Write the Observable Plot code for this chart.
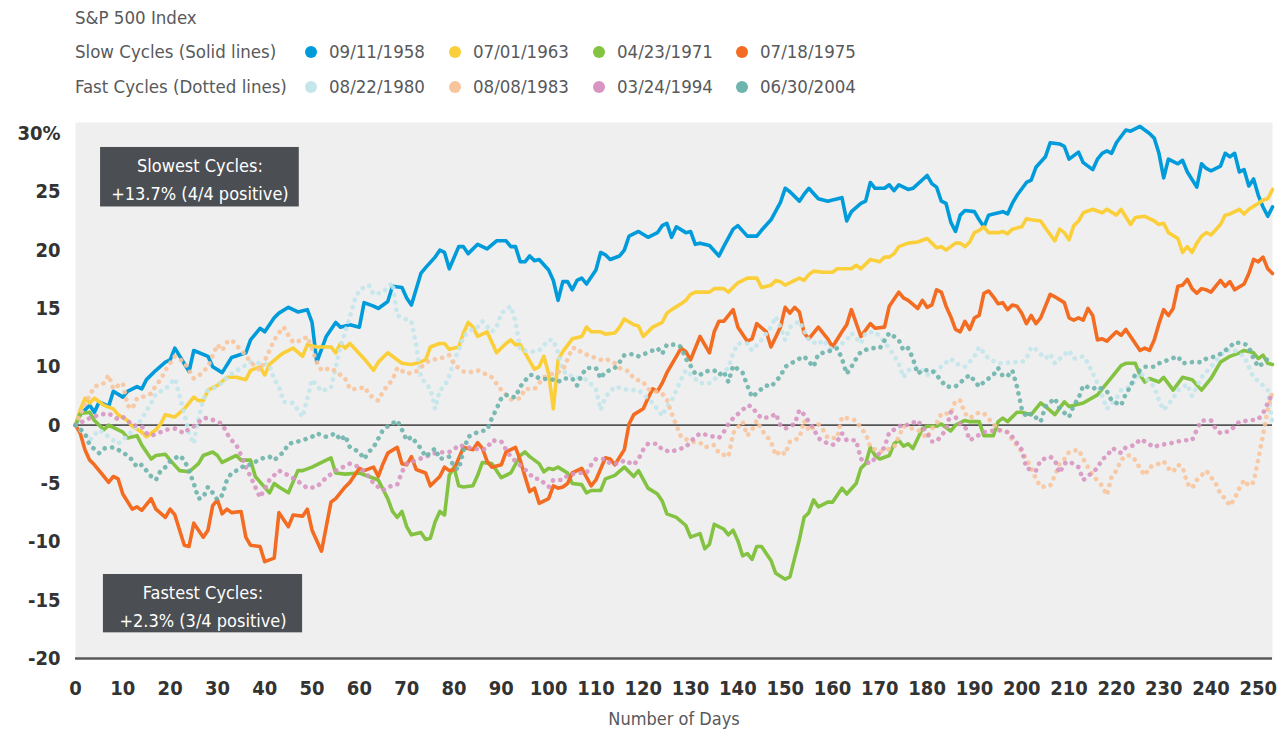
<!DOCTYPE html>
<html><head><meta charset="utf-8">
<script src="https://cdn.jsdelivr.net/npm/d3@7"></script>
<script src="https://cdn.jsdelivr.net/npm/@observablehq/plot@0.6"></script>
<style>
html,body{margin:0;padding:0;background:#fff;}
body{font-family:"Liberation Sans Narrow","DejaVu Sans Condensed","Roboto",sans-serif;}
#legend{position:relative;width:1283px;height:105px;color:#58595b;font-size:18.5px;}
#legend .t{position:absolute;white-space:nowrap;height:24px;line-height:24px;}
#legend .dot{position:absolute;width:12px;height:12px;border-radius:50%;}
#chart svg{display:block;}
</style></head><body>
<div id="legend"></div>
<div id="chart"></div>
<script>
// ---------- data ----------
const title = "S&P 500 Index";
const groupLabels = ["Slow Cycles (Solid lines)", "Fast Cycles (Dotted lines)"];
const slowDates = ["09/11/1958", "07/01/1963", "04/23/1971", "07/18/1975"];
const fastDates = ["08/22/1980", "08/08/1983", "03/24/1994", "06/30/2004"];
const slowColors = ["#009bdb", "#fbcf3a", "#84c341", "#f36c21"];
const fastColors = ["#c3e6eb", "#f8c49c", "#d895c2", "#6db4ac"];
const xTicks = [0,10,20,30,40,50,60,70,80,90,100,110,120,130,140,150,160,170,180,190,200,210,220,230,240,250];
const yTickValues = [-20,-15,-10,-5,0,5,10,15,20,25];
const yTickLabels = ["-20","-15","-10","-5","0","10","15","20","25","30%"];
const xLabel = "Number of Days";
const annotationLabels = ["Slowest Cycles:\n+13.7% (4/4 positive)", "Fastest Cycles:\n+2.3% (3/4 positive)"];
const annotationBoxes = [[5.3, 47.3, 18.7, 23.8], [5.9, 48.0, -17.8, -12.8]];

// [day, % change]
const s1958 = [[0,0],[1,0.9],[3,1.7],[4,1.1],[5,2.0],[7,1.6],[8,2.9],[10,2.4],[11,2.9],[13,3.3],[14,3.1],[15,3.9],[17,4.7],[19,5.4],[20,5.6],[21,6.6],[24,4.6],[25,6.4],[28,5.9],[29,5.0],[31,4.5],[33,5.8],[36,6.2],[37,7.3],[39,8.3],[40,8.0],[42,9.2],[43,9.6],[45,10.1],[47,9.7],[49,9.9],[50,8.8],[51,5.4],[53,7.6],[55,8.8],[56,8.4],[58,8.6],[60,8.4],[61,10.5],[63,10.2],[64,10.0],[66,10.6],[67,11.9],[69,11.8],[70,10.9],[71,10.3],[73,13.0],[74,13.5],[76,14.4],[77,15.0],[78,14.8],[79,13.4],[81,15.3],[82,15.3],[83,14.7],[85,15.5],[87,15.1],[89,15.8],[91,15.8],[92,15.3],[93,15.3],[94,14.0],[95,14.0],[96,14.5],[97,14.1],[98,14.2],[100,13.3],[101,12.4],[102,10.7],[103,12.3],[104,12.3],[105,11.6],[106,12.4],[107,12.6],[108,12.1],[110,13.3],[111,14.8],[112,14.6],[113,14.2],[115,14.5],[116,15.0],[117,16.2],[119,16.6],[121,16.1],[123,16.5],[124,17.1],[125,17.3],[126,16.1],[127,17.0],[129,16.5],[130,16.6],[131,15.5],[132,15.6],[134,15.4],[136,14.5],[137,15.3],[139,16.8],[140,17.1],[142,16.2],[144,16.2],[145,16.7],[147,17.6],[149,19.1],[150,20.3],[151,20.0],[153,19.2],[154,19.8],[155,20.3],[157,19.4],[159,19.2],[160,19.3],[162,19.5],[163,17.5],[164,18.3],[166,19.0],[167,19.2],[168,20.8],[169,20.3],[171,20.3],[172,20.6],[173,20.1],[174,20.6],[176,20.2],[177,20.3],[180,21.4],[181,20.7],[182,20.4],[183,19.2],[184,19.0],[185,17.4],[186,16.6],[187,18.0],[188,18.4],[190,18.3],[191,17.6],[192,17.0],[193,18.0],[194,18.1],[196,18.3],[197,18.1],[198,19.0],[199,19.7],[201,20.8],[202,21.0],[203,22.1],[205,23.0],[206,24.2],[208,24.1],[209,23.9],[210,22.8],[212,23.4],[213,22.5],[215,21.9],[216,22.8],[217,23.3],[218,23.5],[219,23.3],[220,24.2],[222,25.3],[223,25.2],[225,25.6],[227,25.0],[228,24.6],[229,23.3],[230,21.2],[231,22.8],[233,22.4],[234,22.7],[235,21.7],[237,20.4],[238,22.4],[239,22.0],[240,21.8],[242,22.2],[243,23.3],[244,23.0],[245,23.3],[246,21.7],[247,21.9],[248,20.5],[249,21.1],[250,19.7],[251,18.7],[252,17.9],[253,18.7]];

const s1963 = [[0,0],[1,1.3],[2,2.3],[3,1.9],[4,2.3],[6,1.7],[8,1.4],[9,0.9],[11,0.4],[12,-0.1],[14,-0.6],[15,-1.0],[17,-0.4],[18,0.1],[19,0.9],[21,0.7],[23,1.4],[25,2.4],[26,2.1],[27,2.1],[28,3.0],[30,3.4],[32,4.1],[34,4.1],[36,3.9],[37,4.7],[39,5.0],[40,4.3],[41,5.2],[43,5.9],[44,6.2],[46,6.6],[48,5.9],[49,6.9],[51,6.7],[54,6.7],[55,6.2],[56,7.0],[57,6.6],[58,7.0],[61,5.7],[63,4.7],[64,5.4],[66,6.2],[67,5.9],[69,5.3],[71,5.2],[72,5.3],[74,5.6],[75,6.7],[77,7.0],[78,7.0],[79,6.5],[81,6.7],[82,7.9],[83,8.8],[84,8.4],[85,7.6],[87,8.0],[89,6.2],[91,7.0],[92,7.3],[93,6.9],[94,6.9],[97,4.8],[98,5.0],[99,5.9],[100,4.4],[101,1.4],[102,5.6],[103,6.3],[105,7.4],[107,7.6],[108,8.4],[109,8.0],[111,8.0],[112,7.8],[114,7.9],[115,8.4],[116,9.1],[118,8.6],[119,8.5],[120,7.6],[122,8.4],[124,8.8],[125,9.6],[126,9.9],[128,10.4],[129,10.7],[130,11.2],[131,11.4],[134,11.4],[135,11.7],[137,11.7],[138,11.4],[140,12.2],[142,12.6],[144,12.6],[145,11.8],[147,12.0],[148,12.4],[149,12.3],[150,12.0],[152,12.4],[153,12.6],[154,12.4],[155,12.9],[156,13.2],[158,13.1],[160,13.1],[161,13.4],[162,13.4],[164,13.4],[165,13.7],[166,13.4],[167,13.8],[168,14.2],[170,14.0],[171,14.4],[172,14.4],[173,14.7],[174,15.3],[176,15.6],[178,15.7],[180,16.0],[181,15.6],[182,15.2],[183,15.3],[184,15.0],[185,15.3],[186,15.6],[187,15.6],[188,15.3],[189,15.7],[190,16.5],[191,16.7],[192,17.0],[193,16.5],[195,16.5],[196,16.6],[197,16.4],[198,16.8],[200,17.0],[201,17.7],[202,17.6],[204,17.5],[205,16.9],[207,15.8],[208,16.8],[209,16.5],[210,15.9],[211,17.1],[212,17.5],[213,18.2],[215,18.5],[217,18.2],[218,18.5],[220,18.0],[221,18.5],[223,17.2],[224,17.8],[226,17.9],[228,17.5],[229,17.2],[230,17.3],[231,16.5],[233,16.0],[234,14.8],[235,15.3],[236,14.8],[237,15.6],[238,16.2],[239,16.5],[240,16.3],[242,17.2],[243,18.0],[244,18.1],[245,18.3],[246,18.5],[247,18.1],[248,18.5],[250,19.0],[251,19.3],[252,19.4],[253,20.2]];

const s1971 = [[0,0],[1,1.0],[3,1.1],[4,0.4],[6,-0.4],[7,0],[10,-0.6],[11,-1.1],[13,-0.9],[14,-1.7],[16,-2.9],[17,-2.6],[19,-2.5],[20,-3.0],[22,-3.9],[24,-4.0],[26,-3.3],[27,-2.6],[29,-2.3],[30,-2.6],[31,-3.2],[34,-2.6],[35,-3.0],[37,-3.0],[38,-4.4],[41,-5.8],[42,-5.0],[43,-5.3],[45,-5.8],[47,-3.9],[48,-3.9],[50,-3.6],[53,-3.0],[54,-2.8],[55,-4.1],[57,-4.2],[60,-4.1],[62,-4.4],[64,-4.7],[66,-6.3],[67,-7.4],[68,-7.9],[69,-7.4],[70,-8.7],[71,-9.4],[73,-9.2],[74,-9.8],[75,-9.7],[76,-8.3],[77,-7.4],[78,-7.7],[79,-4.3],[80,-3.6],[81,-5.2],[82,-5.3],[84,-5.2],[85,-4.3],[86,-3.2],[88,-3.3],[90,-4.5],[92,-4.1],[94,-2.6],[95,-2.3],[96,-2.7],[98,-3.3],[99,-4.0],[100,-3.7],[101,-3.8],[102,-3.6],[104,-4.1],[105,-5.0],[107,-5.1],[108,-5.8],[109,-5.6],[111,-5.6],[112,-4.6],[114,-4.3],[116,-3.6],[118,-4.4],[119,-3.9],[121,-5.4],[123,-5.9],[124,-6.5],[125,-7.6],[127,-7.9],[129,-8.6],[130,-9.6],[132,-9.3],[133,-10.6],[134,-10.2],[135,-8.5],[137,-8.9],[138,-9.4],[139,-9.0],[140,-9.9],[141,-11.2],[142,-11.0],[143,-11.5],[144,-10.4],[145,-10.4],[147,-11.6],[148,-12.7],[150,-13.2],[151,-13.0],[152,-11.4],[153,-9.8],[154,-7.9],[155,-7.5],[156,-6.4],[157,-7.0],[159,-6.6],[160,-6.6],[162,-5.4],[163,-5.9],[165,-5.0],[166,-3.7],[167,-3.3],[168,-1.9],[169,-2.6],[170,-2.9],[172,-2.6],[173,-1.6],[174,-1.3],[175,-1.8],[176,-1.6],[177,-2.0],[179,-0.3],[180,-0.1],[182,-0.1],[183,0.1],[185,-0.5],[186,0],[188,0.4],[189,0.3],[191,0.3],[192,-0.9],[194,-0.9],[195,0.3],[196,0.6],[197,0.3],[199,1.1],[200,1.1],[202,0.9],[204,1.9],[205,1.6],[207,0.9],[209,2.0],[210,1.6],[213,1.9],[216,2.6],[217,3.1],[219,4.1],[221,5.1],[222,5.3],[224,5.3],[225,4.3],[226,3.7],[227,4.0],[229,3.7],[230,4.1],[232,3.0],[234,4.1],[236,3.9],[238,3.0],[240,4.0],[242,5.4],[244,5.9],[246,6.2],[247,6.4],[249,6.2],[250,5.7],[251,6.0],[252,5.3],[253,5.2]];

const s1975 = [[0,0],[1,-0.7],[2,-2.1],[3,-3.0],[4,-3.4],[6,-4.4],[7,-4.9],[8,-4.4],[9,-4.6],[10,-5.9],[12,-7.2],[13,-7.0],[14,-7.3],[16,-6.3],[17,-7.2],[19,-7.9],[20,-7.2],[21,-7.7],[23,-10.3],[24,-10.4],[25,-8.4],[27,-9.6],[28,-9.0],[29,-6.9],[30,-6.4],[31,-7.6],[32,-7.2],[33,-7.5],[35,-7.4],[36,-9.6],[37,-10.3],[39,-10.4],[40,-11.7],[42,-11.4],[43,-7.5],[45,-8.7],[46,-7.7],[48,-7.8],[49,-7.2],[50,-9.0],[52,-10.8],[53,-8.7],[54,-6.6],[55,-6.3],[57,-5.3],[58,-4.9],[60,-3.7],[61,-3.9],[63,-3.6],[64,-4.4],[65,-3.3],[66,-2.4],[68,-1.9],[69,-3.3],[70,-3.4],[71,-2.7],[72,-3.8],[74,-4.1],[75,-5.2],[77,-4.4],[78,-3.6],[79,-3.9],[80,-3.8],[82,-1.9],[84,-2.1],[85,-1.5],[86,-2.0],[87,-3.1],[88,-3.6],[90,-3.4],[91,-2.3],[92,-2.1],[93,-1.9],[94,-3.0],[95,-4.4],[96,-5.7],[97,-5.4],[98,-6.7],[100,-6.3],[101,-5.2],[102,-5.4],[103,-5.3],[104,-5.0],[105,-4.1],[107,-3.7],[109,-5.2],[110,-4.7],[112,-2.8],[113,-2.9],[114,-3.4],[116,-2.1],[117,0.1],[118,0.9],[120,1.4],[121,2.3],[122,3.1],[123,2.9],[124,3.6],[125,4.5],[127,5.9],[128,6.6],[129,6.3],[130,5.6],[132,7.6],[134,6.2],[135,8.0],[136,8.9],[137,8.9],[139,9.9],[140,8.4],[142,7.2],[143,7.4],[144,8.7],[146,8.0],[147,6.7],[149,8.4],[150,10.1],[151,9.6],[152,10.1],[153,9.7],[154,7.9],[155,7.4],[157,8.4],[159,7.4],[160,6.7],[162,8.0],[163,8.6],[164,9.9],[166,7.6],[168,8.7],[169,8.3],[171,8.4],[172,10.2],[174,11.4],[175,10.9],[176,10.7],[178,10.0],[179,10.7],[180,10.1],[181,10.3],[182,11.6],[183,11.4],[184,10.2],[185,9.3],[186,8.2],[187,8.0],[188,8.9],[189,8.2],[190,9.2],[191,9.4],[192,11.3],[193,11.5],[194,11.0],[195,10.4],[196,10.5],[197,9.9],[198,10.3],[199,10.2],[200,9.6],[201,8.7],[202,9.4],[203,8.7],[204,9.2],[206,11.2],[207,11.0],[209,10.5],[210,9.2],[211,9.0],[212,9.2],[213,9.0],[214,10.0],[215,9.4],[216,7.3],[217,7.4],[218,7.2],[220,8.0],[221,7.7],[222,8.2],[223,7.6],[224,7.0],[225,6.4],[226,6.6],[227,6.4],[228,7.3],[229,8.7],[230,9.9],[231,9.4],[232,10.0],[233,11.9],[234,12.0],[235,12.5],[236,11.7],[237,11.3],[238,11.7],[239,11.6],[240,11.4],[242,12.4],[243,11.9],[244,12.3],[245,11.6],[247,12.1],[248,13.0],[249,14.2],[250,14.0],[251,14.4],[252,13.4],[253,13.0]];

const s1980 = [[0,0],[1,-0.4],[3,-1.3],[5,-0.4],[7,-1.0],[9,-1.6],[11,-0.9],[13,-0.1],[16,1.9],[17,2.7],[19,3.1],[21,4.0],[23,1.0],[24,-0.7],[25,-1.6],[26,0.6],[27,2.2],[28,3.0],[30,3.3],[33,4.4],[37,5.4],[41,5.2],[42,3.9],[43,3.3],[44,2.0],[46,1.9],[48,0.7],[49,2.3],[50,3.9],[52,2.9],[54,3.2],[56,6.7],[58,9.3],[59,10.7],[60,11.6],[62,12.0],[63,11.2],[65,11.4],[67,12.2],[68,9.4],[69,9.2],[71,8.9],[72,6.9],[73,4.1],[75,3.1],[76,1.4],[77,3.0],[78,3.3],[79,4.2],[80,5.6],[81,6.4],[82,7.6],[84,8.3],[85,8.4],[86,8.9],[88,8.0],[89,8.4],[90,9.6],[92,10.2],[93,8.9],[94,6.4],[97,6.3],[98,6.4],[100,7.3],[101,7.3],[102,6.2],[103,4.7],[104,4.3],[106,4.1],[108,3.9],[110,3.1],[111,1.3],[112,2.4],[114,3.3],[117,3.0],[119,3.0],[122,1.9],[124,0.8],[125,1.6],[126,2.1],[128,3.9],[129,4.7],[132,3.6],[134,3.6],[138,4.9],[139,6.2],[140,7.0],[142,7.0],[143,6.4],[145,7.3],[147,8.4],[148,9.3],[149,8.4],[150,7.3],[151,8.4],[153,8.9],[155,7.3],[157,6.9],[158,7.3],[160,6.4],[163,7.3],[164,7.9],[166,7.0],[167,7.9],[169,8.0],[170,7.6],[172,6.6],[174,5.3],[175,4.1],[176,4.7],[178,5.0],[180,4.3],[182,4.7],[185,5.7],[186,5.3],[188,5.0],[190,5.9],[191,6.7],[193,5.7],[195,5.3],[196,5.3],[198,5.4],[200,5.4],[201,5.7],[202,6.7],[203,6.5],[205,5.7],[206,6.1],[207,5.3],[210,6.4],[211,5.7],[213,5.9],[214,5.3],[216,3.6],[218,1.4],[220,2.3],[221,3.0],[223,3.3],[225,4.5],[228,3.3],[229,2.1],[230,1.3],[232,2.3],[233,3.0],[235,3.5],[236,2.5],[238,4.1],[240,5.0],[243,6.4],[245,6.4],[247,5.9],[249,4.1],[250,3.8],[252,3.0],[253,0.1]];

const s1983 = [[0,0],[2,1.8],[4,3.3],[6,3.6],[7,4.3],[8,3.1],[9,3.4],[10,3.6],[11,1.7],[12,1.4],[13,2.3],[14,2.4],[16,2.7],[17,3.4],[18,3.9],[19,4.7],[21,5.9],[23,5.4],[24,4.7],[25,4.0],[26,4.2],[28,5.0],[30,6.9],[31,6.4],[32,7.1],[33,7.3],[35,6.4],[36,6.0],[37,5.4],[39,4.7],[40,5.5],[42,7.3],[43,7.9],[44,8.4],[45,7.7],[46,7.1],[48,7.3],[49,7.6],[51,5.4],[52,4.7],[54,4.9],[56,4.3],[57,4.0],[58,3.1],[60,3.1],[61,3.3],[62,2.7],[63,2.3],[64,2.1],[65,2.9],[67,3.9],[68,4.9],[70,4.4],[72,4.6],[74,5.3],[75,5.6],[77,5.7],[79,6.0],[80,5.2],[82,4.6],[83,4.5],[85,4.7],[87,4.3],[88,4.1],[90,3.0],[92,2.2],[94,2.3],[95,3.1],[97,3.1],[99,4.1],[100,4.3],[103,4.7],[105,6.6],[106,6.6],[107,6.2],[109,5.9],[111,5.6],[112,5.7],[114,5.3],[115,4.9],[117,4.6],[118,4.0],[120,3.7],[121,3.1],[124,2.7],[125,2.2],[126,1.0],[127,0],[128,-1.0],[130,-1.4],[132,-1.5],[133,-1.9],[135,-1.7],[136,-2.4],[138,-2.7],[139,-0.7],[141,0.3],[142,-0.9],[143,-0.4],[144,0.4],[145,-0.4],[147,-1.4],[148,-2.6],[149,-2.2],[150,-2.5],[151,-1.4],[153,-1.1],[154,0.4],[155,-0.5],[157,0.1],[158,-0.4],[159,-1.1],[161,-1.1],[162,0.7],[165,0.4],[166,-0.3],[167,-0.7],[168,-1.9],[170,-2.3],[173,-1.9],[175,-0.1],[178,-0.4],[180,-1.1],[181,-0.3],[182,0.1],[183,1.0],[185,1.0],[186,2.1],[187,2.1],[188,1.0],[189,0.6],[191,1.1],[192,1.0],[194,0.1],[195,-0.4],[197,-0.6],[198,-1.3],[199,-1.7],[200,-2.3],[201,-2.9],[202,-3.7],[203,-4.6],[204,-5.3],[206,-5.2],[207,-4.3],[208,-3.3],[209,-2.9],[210,-2.3],[212,-2.1],[213,-2.9],[214,-3.6],[215,-4.3],[217,-5.2],[218,-6.0],[219,-4.4],[220,-3.9],[221,-3.0],[222,-2.6],[223,-2.6],[224,-3.0],[225,-3.7],[226,-4.3],[227,-3.6],[229,-3.3],[230,-3.1],[231,-3.7],[232,-4.0],[233,-3.4],[234,-3.6],[235,-5.0],[236,-5.4],[237,-4.7],[239,-3.9],[241,-5.0],[242,-5.9],[243,-6.3],[244,-6.9],[245,-6.3],[246,-5.4],[247,-4.7],[248,-5.2],[249,-4.9],[250,-2.9],[251,-0.8],[252,1.3],[253,2.9]];

const s1994 = [[0,0],[3,0.6],[5,0.9],[7,1.0],[9,0.5],[10,0.7],[11,0.4],[12,0],[14,-0.1],[15,-0.7],[16,-0.9],[18,-0.6],[19,-0.4],[21,-0.3],[23,-0.7],[24,-0.3],[25,-0.1],[27,0.6],[28,0.6],[30,0.3],[31,0.1],[32,-0.7],[33,-1.3],[34,-1.7],[35,-2.6],[36,-3.6],[37,-4.4],[39,-6.2],[41,-4.7],[43,-3.9],[45,-4.3],[47,-4.8],[49,-5.4],[51,-5.3],[53,-4.5],[55,-3.9],[56,-3.7],[58,-3.3],[60,-3.6],[62,-4.4],[63,-5.0],[65,-5.6],[66,-5.3],[68,-5.1],[69,-4.0],[70,-3.3],[72,-3.0],[74,-2.7],[76,-2.4],[78,-2.3],[79,-2.3],[80,-2.1],[81,-1.7],[83,-1.9],[84,-2.0],[86,-2.1],[87,-2.0],[88,-1.3],[90,-1.4],[91,-2.1],[92,-2.7],[93,-3.1],[95,-3.8],[97,-4.6],[98,-4.6],[100,-5.3],[101,-4.7],[103,-4.7],[104,-4.3],[106,-4.1],[108,-4.1],[109,-3.4],[110,-2.9],[112,-2.9],[113,-3.3],[115,-3.3],[116,-3.0],[118,-3.4],[119,-2.9],[120,-2.1],[121,-1.6],[123,-1.6],[124,-2.1],[126,-2.3],[127,-2.1],[129,-1.9],[130,-1.4],[132,-0.7],[134,-0.9],[136,-1.1],[137,-0.6],[138,0.1],[139,0.6],[141,1.3],[142,1.7],[143,1.6],[144,1.0],[145,0.6],[147,0.7],[148,1.0],[149,0],[150,-0.3],[152,0.1],[153,1.3],[154,0.9],[155,0.3],[156,-0.3],[157,-1.1],[158,-1.4],[160,-1.7],[161,-1.4],[162,-0.7],[163,-1.3],[165,-1.3],[166,-2.9],[167,-3.1],[168,-3.3],[171,-1.9],[172,-0.6],[173,-0.4],[175,0.1],[176,0],[178,0.4],[180,-0.7],[181,-1.4],[182,-1.4],[184,-0.4],[185,1.1],[186,0.7],[187,0.1],[188,-0.1],[189,-1.3],[192,-0.6],[195,-0.4],[197,-0.6],[198,-1.0],[200,-2.1],[201,-3.7],[203,-3.9],[204,-3.0],[206,-2.7],[207,-3.0],[208,-4.1],[209,-3.3],[210,-3.1],[212,-3.6],[213,-4.7],[214,-4.4],[215,-4.0],[216,-3.7],[217,-2.9],[218,-2.7],[219,-2.0],[220,-2.1],[221,-2.4],[222,-1.9],[224,-1.7],[225,-1.2],[226,-1.4],[228,-1.9],[229,-1.7],[231,-1.6],[232,-1.5],[234,-1.3],[236,-1.3],[237,-0.4],[238,0.4],[240,0.4],[241,-0.3],[242,-0.7],[244,-0.5],[245,-0.1],[246,0.3],[248,0.4],[250,0.5],[251,1.0],[252,1.9],[253,2.7]];

const s2004 = [[0,0],[2,-0.7],[3,-1.7],[5,-2.4],[6,-2.0],[8,-1.9],[9,-2.1],[11,-2.6],[12,-3.0],[13,-3.6],[14,-3.4],[16,-4.4],[17,-4.7],[18,-3.9],[19,-3.6],[20,-3.1],[22,-2.6],[23,-3.0],[24,-3.9],[25,-5.0],[26,-6.3],[27,-6.2],[28,-5.3],[29,-5.8],[30,-6.4],[31,-6.0],[32,-4.7],[33,-4.1],[34,-3.9],[36,-3.4],[37,-3.4],[39,-2.9],[41,-2.7],[42,-3.0],[44,-2.3],[45,-1.6],[47,-1.4],[48,-1.3],[50,-1.0],[51,-0.7],[53,-1.0],[55,-0.7],[56,-1.3],[57,-0.9],[58,-1.9],[60,-2.3],[61,-2.9],[62,-2.3],[63,-1.9],[65,-0.4],[66,-0.1],[68,0.4],[69,-0.4],[70,-1.3],[71,-1.0],[73,-2.0],[74,-2.7],[76,-2.0],[77,-2.9],[79,-2.7],[80,-3.6],[81,-3.8],[82,-2.2],[83,-1.0],[85,-0.6],[87,-0.4],[88,0.6],[89,1.4],[90,2.3],[91,2.6],[92,2.4],[93,2.4],[94,3.3],[96,4.3],[97,4.3],[98,4.0],[101,3.9],[102,3.7],[103,4.0],[105,4.0],[106,3.4],[107,4.3],[108,4.9],[110,4.9],[111,4.0],[112,4.6],[113,4.7],[114,4.9],[115,5.4],[116,6.0],[118,6.1],[119,5.9],[122,6.4],[123,6.6],[124,6.1],[125,6.9],[127,6.9],[128,6.7],[129,5.7],[130,5.1],[131,4.4],[132,4.3],[133,4.6],[135,4.7],[136,4.3],[137,4.6],[138,3.7],[139,5.1],[141,4.5],[142,3.4],[143,2.4],[145,3.1],[146,3.4],[147,3.3],[149,4.2],[150,5.0],[153,5.7],[154,5.9],[156,5.0],[157,6.1],[159,6.3],[161,6.6],[162,5.7],[163,4.4],[164,5.0],[165,5.7],[166,6.3],[168,6.6],[170,6.6],[172,7.9],[174,7.3],[175,6.4],[176,6.6],[177,5.7],[178,4.4],[179,4.7],[181,4.7],[182,4.3],[184,3.3],[186,3.3],[188,4.0],[189,4.3],[191,3.3],[192,3.7],[194,4.3],[195,4.9],[196,4.2],[197,4.2],[198,4.7],[199,3.3],[200,1.4],[201,0.7],[202,1.0],[204,0.3],[205,1.6],[207,2.3],[208,1.4],[210,0.7],[211,1.7],[212,2.3],[213,3.4],[215,3.1],[216,3.3],[218,2.9],[219,2.1],[221,1.7],[222,2.7],[223,3.3],[224,4.4],[226,5.0],[228,5.0],[229,5.3],[231,5.6],[233,5.9],[234,5.3],[236,5.4],[238,5.4],[239,5.7],[241,5.9],[242,6.1],[244,6.7],[245,7.1],[247,7.0],[248,6.7],[249,5.7],[250,5.0],[251,5.3],[252,5.7],[253,5.7]];

const slowSeries = [s1958, s1963, s1971, s1975];
const fastSeries = [s1980, s1983, s1994, s2004];

// ---------- legend (HTML, above the SVG) ----------
const legend = document.getElementById("legend");
function addText(txt, left, cy) {
  const d = document.createElement("div");
  d.className = "t"; d.textContent = txt;
  d.style.left = left + "px"; d.style.top = (cy - 12) + "px";
  legend.appendChild(d);
}
function addDot(color, cx, cy) {
  const d = document.createElement("div");
  d.className = "dot"; d.style.background = color;
  d.style.left = (cx - 6) + "px"; d.style.top = (cy - 6) + "px";
  legend.appendChild(d);
}
const colX = [311, 455, 599, 742];
const rowY = [18, 52, 87];
addText(title, 75, rowY[0]);
[[slowDates, slowColors], [fastDates, fastColors]].forEach(([dates, colors], r) => {
  addText(groupLabels[r], 75, rowY[r + 1]);
  dates.forEach((dt, i) => {
    addDot(colors[i], colX[i], rowY[r + 1]);
    addText(dt, colX[i] + 18, rowY[r + 1]);
  });
});

// ---------- chart ----------
const annotations = annotationLabels.map((label, i) => ({
  label, x1: annotationBoxes[i][0], x2: annotationBoxes[i][1],
  y1: annotationBoxes[i][2], y2: annotationBoxes[i][3]
}));

const lineMarks = [];
slowSeries.forEach((s, i) => lineMarks.push(
  Plot.line(s, {x: d => d[0], y: d => d[1], stroke: slowColors[i], strokeWidth: 3.6,
    strokeLinejoin: "round", strokeLinecap: "round"})
));
fastSeries.forEach((s, i) => lineMarks.push(
  Plot.line(s, {x: d => d[0], y: d => d[1], stroke: fastColors[i], strokeWidth: 4.6,
    strokeDasharray: "0.1 7.4", strokeLinecap: "round", strokeLinejoin: "round", strokeOpacity: 0.9})
));

const fontFam = '"Liberation Sans Narrow","DejaVu Sans Condensed",sans-serif';
const chart = Plot.plot({
  width: 1283,
  height: 631,
  marginTop: 17,
  marginBottom: 78,
  marginLeft: 75,
  marginRight: 11,
  style: {fontFamily: fontFam, background: "#fff", overflow: "visible"},
  x: {domain: [0, 253], axis: null},
  y: {domain: [-20, 25.94], axis: null},
  marks: [
    Plot.frame({fill: "#efefef", stroke: null}),
    Plot.ruleY([0], {stroke: "#555", strokeWidth: 1.6}),
    ...lineMarks,
    Plot.ruleY([-20], {stroke: "#58595b", strokeWidth: 2.6}),
    Plot.axisY(yTickValues, {tickSize: 0, tickPadding: 15, tickFormat: (d, i) => yTickLabels[i],
      fontSize: 20, fontWeight: "bold", fill: "#333", label: null}),
    Plot.axisX(xTicks, {tickSize: 0, tickPadding: 22, fontSize: 20, fontWeight: "bold", fill: "#333", label: null}),
    Plot.text([xLabel], {frameAnchor: "bottom", dy: 66, fontSize: 18, fill: "#58595b"}),
    Plot.rect(annotations, {x1: "x1", x2: "x2", y1: "y1", y2: "y2", fill: "#4b4e53"}),
    Plot.text(annotations, {x: d => (d.x1 + d.x2) / 2, y: d => (d.y1 + d.y2) / 2, text: "label",
      fill: "#fff", fontSize: 18, lineHeight: 1.55})
  ]
});
document.getElementById("chart").appendChild(chart);
</script>
</body></html>
